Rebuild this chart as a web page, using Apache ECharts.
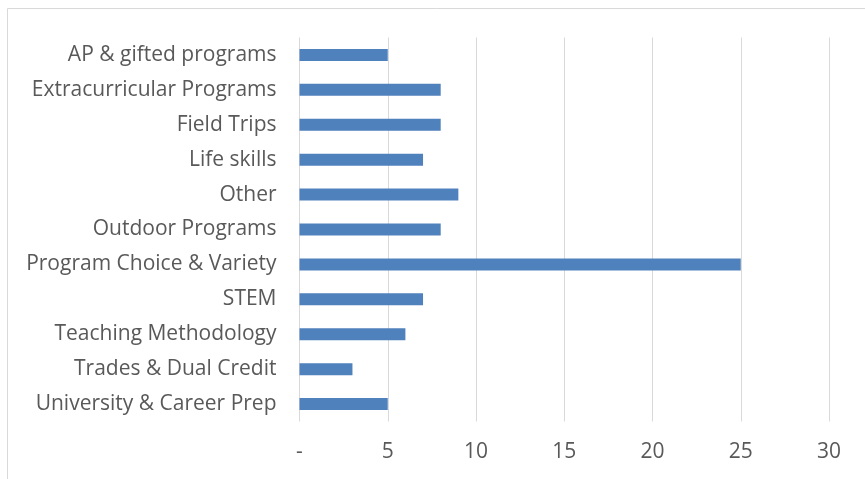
<!DOCTYPE html>
<html>
<head>
<meta charset="utf-8">
<script src="https://cdn.jsdelivr.net/npm/echarts@6/dist/echarts.min.js"></script>
<style>html,body{margin:0;padding:0;background:#fff}#c{width:865px;height:479px}</style>
</head>
<body>
<div id="c"></div>
<script>
const categories = ['AP & gifted programs','Extracurricular Programs','Field Trips','Life skills','Other','Outdoor Programs','Program Choice & Variety','STEM','Teaching Methodology','Trades & Dual Credit','University & Career Prep'];
const values = [5, 8, 8, 7, 9, 8, 25, 7, 6, 3, 5];
const tickLabels = ['-', '5', '10', '15', '20', '25', '30'];

const chart = echarts.init(document.getElementById('c'), null, {renderer: 'canvas'});
const font = '"Open Sans", sans-serif';
chart.setOption({
  animation: false,
  grid: {left: 299.5, right: 36, top: 37.5, bottom: 57.5},
  graphic: [{type: 'rect', shape: {x: 7.5, y: 8.5, width: 900, height: 500}, style: {fill: 'none', stroke: '#d9d9d9', lineWidth: 1}, silent: true}],
  xAxis: {
    type: 'value', min: 0, max: 30, interval: 5,
    axisLine: {show: false}, axisTick: {show: false},
    splitLine: {lineStyle: {color: '#d9d9d9', width: 1}},
    axisLabel: {color: '#595959', fontSize: 21, fontFamily: font, margin: 20,
      formatter: (v) => tickLabels[Math.round(v / 5)]}
  },
  yAxis: {
    type: 'category', data: categories, inverse: true,
    axisLine: {show: false}, axisTick: {show: false},
    axisLabel: {color: '#595959', fontSize: 21, fontFamily: font, margin: 23, padding: [2, 0, 0, 0]}
  },
  series: [{type: 'bar', data: values, barWidth: 12, itemStyle: {color: '#4f81bd'}}]
});
</script>
</body>
</html>
